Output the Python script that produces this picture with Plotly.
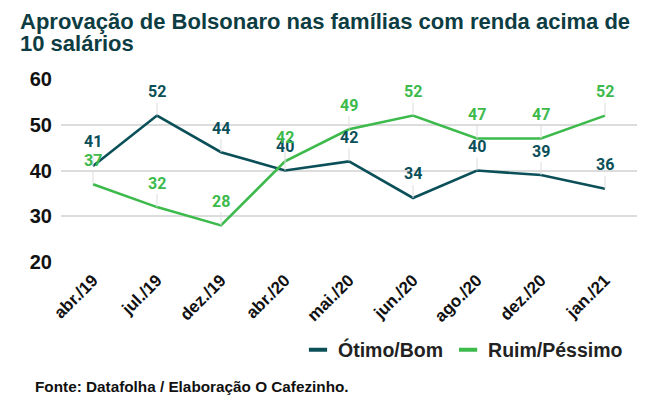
import plotly.graph_objects as go

categories = ["abr./19", "jul./19", "dez./19", "abr./20", "mai./20", "jun./20", "ago./20", "dez./20", "jan./21"]
otimo_bom = [41, 52, 44, 40, 42, 34, 40, 39, 36]
ruim_pessimo = [37, 32, 28, 42, 49, 52, 47, 47, 52]
y_ticks = [20, 30, 40, 50, 60]

C_OTIMO = "#0b5058"
C_RUIM = "#3dba4c"
C_TITLE = "#0d3d42"
LAB = "Roboto"
SANS = "Liberation Sans"

W, H = 656, 398
ML, MR, MT, MB = 61, 19, 79, 136
PW, PH = W - ML - MR, H - MT - MB

def px(x):
    return (x - ML) / PW

def py(y):
    return (H - MB - y) / PH

fig = go.Figure()
for vals, col in [(otimo_bom, C_OTIMO), (ruim_pessimo, C_RUIM)]:
    fig.add_trace(go.Scatter(x=categories, y=vals, mode="lines", line=dict(color=col, width=2.6),
                             showlegend=False, hoverinfo="skip"))
for name, col in [("Ótimo/Bom", C_OTIMO), ("Ruim/Péssimo", C_RUIM)]:
    fig.add_trace(go.Scatter(x=[None], y=[None], mode="markers", name=name,
                             marker=dict(symbol="line-ew", size=13, line=dict(width=4, color=col))))

for vals, col in [(otimo_bom, C_OTIMO), (ruim_pessimo, C_RUIM)]:
    for c, v in zip(categories, vals):
        fig.add_annotation(x=c, y=v, xref="x", yref="y", text=str(v), showarrow=True,
                           arrowhead=0, arrowwidth=1, arrowcolor="#dddddd", ax=0, ay=-24,
                           font=dict(family=LAB, size=16, color=col, weight="bold"))

fig.update_layout(
    width=W, height=H,
    margin=dict(l=ML, r=MR, t=MT, b=MB, autoexpand=False),
    paper_bgcolor="white", plot_bgcolor="white",
    showlegend=True,
    legend=dict(orientation="h", xref="container", yref="container", x=628 / W, xanchor="right",
                y=1 - 350 / H, yanchor="middle",
                font=dict(family=SANS, size=19.5, color="#222222", weight="bold"), itemwidth=30),
    xaxis=dict(type="category", range=[-0.5, 8.5], showgrid=False, zeroline=False, showline=False,
               ticks="", tickangle=-45, ticklabelstandoff=4,
               tickfont=dict(family=SANS, size=17, color="#111111", weight="bold")),
    yaxis=dict(range=[20, 60], tickvals=y_ticks, showgrid=True, gridcolor="#dcdcdc", gridwidth=1.5,
               zeroline=False, showline=False, ticks="", ticklabelstandoff=8,
               tickfont=dict(family=SANS, size=20, color="#111111", weight="bold")),
)

fig.add_annotation(x=px(18), y=py(36), xref="paper", yref="paper", xanchor="left", yanchor="bottom",
                   text="Aprovação de Bolsonaro nas famílias com renda acima de", showarrow=False,
                   font=dict(family=SANS, size=22, color=C_TITLE, weight="bold"))
fig.add_annotation(x=px(18), y=py(58), xref="paper", yref="paper", xanchor="left", yanchor="bottom",
                   text="10 salários", showarrow=False,
                   font=dict(family=SANS, size=22, color=C_TITLE, weight="bold"))
fig.add_annotation(x=px(33), y=py(397), xref="paper", yref="paper", xanchor="left", yanchor="bottom",
                   text="Fonte: Datafolha / Elaboração O Cafezinho.", showarrow=False,
                   font=dict(family=SANS, size=15.3, color="#111111", weight="bold"))

fig.write_html("out.html", config={"displayModeBar": False},
               post_script="document.body.style.margin='0';")
